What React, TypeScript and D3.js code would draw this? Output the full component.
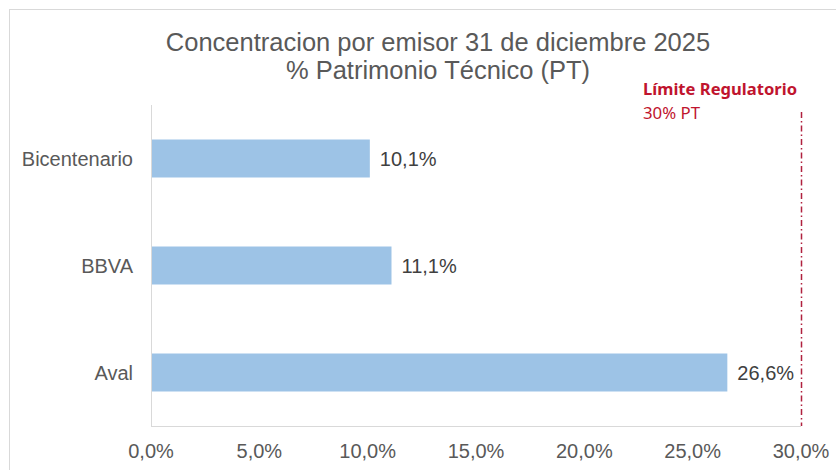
import React, { useEffect, useRef } from 'react';
import * as d3 from 'd3';

const categories = ['Bicentenario', 'BBVA', 'Aval'];
const values = [10.1, 11.1, 26.6];
const xTicks = [0, 5, 10, 15, 20, 25, 30];
const limitValue = 30;
const titleLines = ['Concentracion por emisor 31 de diciembre 2025', '% Patrimonio Técnico (PT)'];
const limitLines = ['Límite Regulatorio', '30% PT'];

const fmt = (v: number) => v.toFixed(1).replace('.', ',') + '%';

const App = () => {
  const ref = useRef<SVGSVGElement | null>(null);

  useEffect(() => {
    document.body.style.margin = '0';
    if (!ref.current) return;
    const svg = d3.select(ref.current);
    svg.selectAll('*').remove();

    const width = 836;
    const height = 470;
    const margin = { top: 105, right: 34, bottom: 44, left: 151 };
    const font = '"Liberation Sans", Arial, sans-serif';

    // chart frame
    svg.append('rect')
      .attr('x', 9.5).attr('y', 9.5)
      .attr('width', 840).attr('height', 480)
      .attr('fill', '#fff')
      .attr('stroke', '#d9d9d9');

    const x = d3.scaleLinear()
      .domain([0, 30])
      .range([margin.left, width - margin.right - 1]);

    const y = d3.scaleBand()
      .domain(categories)
      .range([margin.top, height - margin.bottom])
      .paddingInner(0.645)
      .paddingOuter(0.3225);

    // title
    svg.append('text')
      .attr('x', 438).attr('y', 51)
      .attr('text-anchor', 'middle')
      .attr('font-family', font)
      .attr('font-size', 25.5)
      .attr('fill', '#595959')
      .selectAll('tspan')
      .data(titleLines)
      .join('tspan')
      .attr('x', 438)
      .attr('dy', (d, i) => (i === 0 ? 0 : 28))
      .text(d => d);

    // axes lines
    const y0 = height - margin.bottom;
    svg.append('line')
      .attr('x1', x(0) + 0.5).attr('x2', x(0) + 0.5)
      .attr('y1', margin.top).attr('y2', y0)
      .attr('stroke', '#d9d9d9');
    svg.append('line')
      .attr('x1', x(0)).attr('x2', x(30))
      .attr('y1', y0 + 0.5).attr('y2', y0 + 0.5)
      .attr('stroke', '#d9d9d9');

    // bars
    svg.append('g')
      .selectAll('rect')
      .data(values)
      .join('rect')
      .attr('x', x(0) + 1)
      .attr('y', (d, i) => y(categories[i])!)
      .attr('width', d => x(d) - x(0) - 1)
      .attr('height', y.bandwidth())
      .attr('fill', '#9dc3e6');

    // value labels
    svg.append('g')
      .selectAll('text')
      .data(values)
      .join('text')
      .attr('x', d => x(d) + 10)
      .attr('y', (d, i) => y(categories[i])! + y.bandwidth() / 2)
      .attr('dy', '0.35em')
      .attr('font-family', font)
      .attr('font-size', 20)
      .attr('fill', '#404040')
      .text(d => fmt(d));

    // category labels
    svg.append('g')
      .selectAll('text')
      .data(categories)
      .join('text')
      .attr('x', 133)
      .attr('y', d => y(d)! + y.bandwidth() / 2)
      .attr('dy', '0.35em')
      .attr('text-anchor', 'end')
      .attr('font-family', font)
      .attr('font-size', 20)
      .attr('fill', '#595959')
      .text(d => d);

    // x tick labels
    svg.append('g')
      .selectAll('text')
      .data(xTicks)
      .join('text')
      .attr('x', d => x(d))
      .attr('y', y0 + 25)
      .attr('dy', '0.35em')
      .attr('text-anchor', 'middle')
      .attr('font-family', font)
      .attr('font-size', 20)
      .attr('fill', '#595959')
      .text(d => fmt(d));

    // regulatory limit
    svg.append('line')
      .attr('x1', x(limitValue) + 0.5).attr('x2', x(limitValue) + 0.5)
      .attr('y1', 112).attr('y2', y0)
      .attr('stroke', '#b0213f')
      .attr('stroke-width', 1.5)
      .attr('stroke-dasharray', '6,3,1.5,3');

    svg.append('text')
      .attr('x', 643).attr('y', 95)
      .attr('font-family', '"Noto Sans", sans-serif')
      .attr('font-weight', 'bold')
      .attr('font-size', 16)
      .attr('textLength', 154)
      .attr('lengthAdjust', 'spacingAndGlyphs')
      .attr('fill', '#c0142e')
      .text(limitLines[0]);
    svg.append('text')
      .attr('x', 643).attr('y', 119)
      .attr('font-family', '"Noto Sans", sans-serif')
      .attr('font-size', 16)
      .attr('textLength', 57)
      .attr('lengthAdjust', 'spacingAndGlyphs')
      .attr('fill', '#c0142e')
      .text(limitLines[1]);
  }, []);

  return <svg ref={ref} width={836} height={470} style={{ display: 'block' }} />;
};

export default App;
